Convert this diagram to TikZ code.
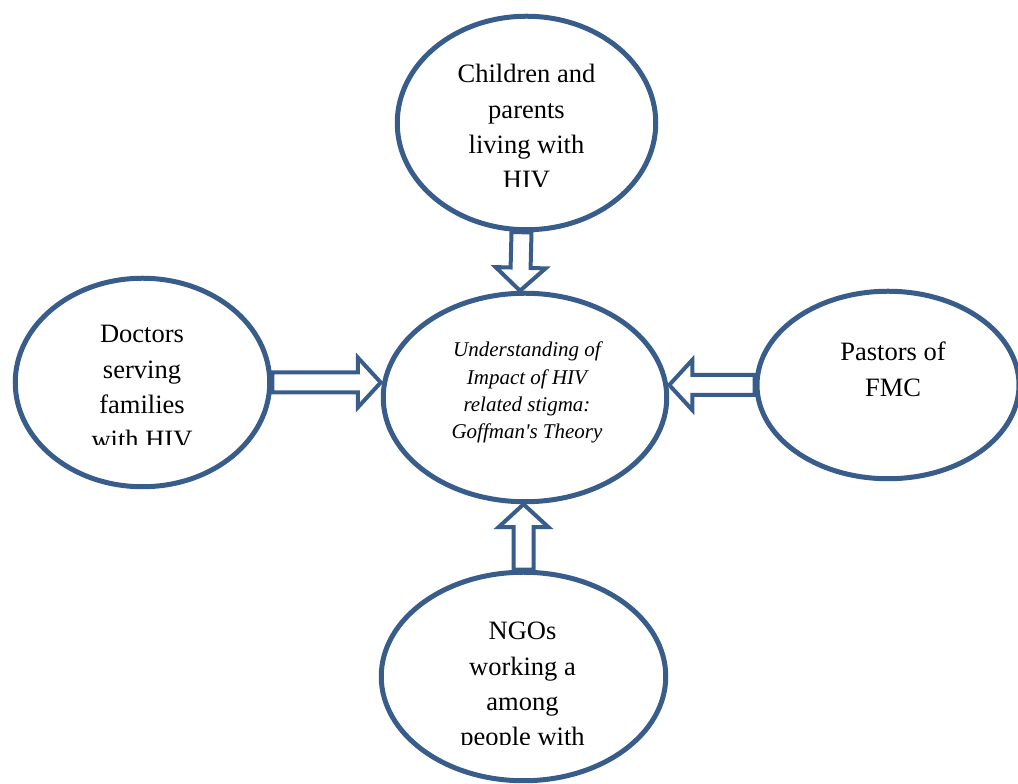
\documentclass[tikz,border=0pt]{standalone}
\usepackage{fontspec}
\setmainfont{Liberation Serif}
\usepackage{tikz}
\usetikzlibrary{shapes.geometric, calc}
\definecolor{hivblue}{RGB}{56,93,138}

\begin{document}
\begin{tikzpicture}[x=1pt, y=1pt]
	\tikzstyle{bubble}=[ellipse, draw=hivblue, line width=5pt, inner sep=0pt]
	\tikzstyle{txt}=[align=center, anchor=base, inner sep=0pt, font=\fontsize{26.5}{35.3}\selectfont]
	\tikzstyle{fat}=[draw=hivblue, line width=4pt, to path={
		let \p1=($(\tikztotarget)!23pt!(\tikztostart)$) in
		($(\tikztostart)!10pt!90:(\tikztotarget)$) -- ($(\p1)!10pt!-90:(\tikztostart)$)
		-- ($(\p1)!25pt!-90:(\tikztostart)$) -- (\tikztotarget)
		-- ($(\p1)!25pt!90:(\tikztostart)$) -- ($(\p1)!10pt!90:(\tikztostart)$)
		-- ($(\tikztostart)!10pt!-90:(\tikztotarget)$) -- cycle}]
	\useasboundingbox (0,0) rectangle (1018,784);
	\node[bubble, minimum width=258.5, minimum height=213.5] (kids) at (526.5,661)   {};
	\node[bubble, minimum width=254.5, minimum height=208.5] (doc)  at (142.5,401.5) {};
	\node[bubble, minimum width=283.5, minimum height=208.5] (core) at (525,386.5)   {};
	\node[bubble, minimum width=262,   minimum height=187.5] (pas)  at (888,399)     {};
	\node[bubble, minimum width=284.5, minimum height=208.5] (ngo)  at (523.5,107.5) {};
	% texts, cut off at the bottom of their boxes (base = last line)
	\begin{scope}
		\clip (390,784) rectangle (665,597);
		\node[txt] (kidst) at (526.5,595.1) {Children and\\parents\\living with\\HIV};
	\end{scope}
	\begin{scope}
		\clip (15,500) rectangle (270,339);
		\node[txt] (doct) at (142,335.1) {Doctors\\serving\\families\\with HIV};
	\end{scope}
	\node[txt, font=\itshape\fontsize{21}{27.3}\selectfont] (coret) at (527,345.1)
		{Understanding of\\Impact of HIV\\related stigma:\\Goffman\textquotesingle s Theory};
	\node[txt] (past) at (893,387.7) {Pastors of\\FMC};
	\begin{scope}
		\clip (385,220) rectangle (665,39);
		\node[txt] (ngot) at (522.5,38.1) {NGOs\\working a\\among\\people with};
	\end{scope}
	% block arrows
	\path
	($(kids.south)+(-5,0)$) edge[fat] ($(core.north)+(-5,0)$)
	(doc.east)  edge[fat] (core.west |- doc.east)
	(pas.west)  edge[fat] (core.east |- pas.west)
	(ngo.north) edge[fat] (core.south -| ngo.north);
\end{tikzpicture}
\end{document}
